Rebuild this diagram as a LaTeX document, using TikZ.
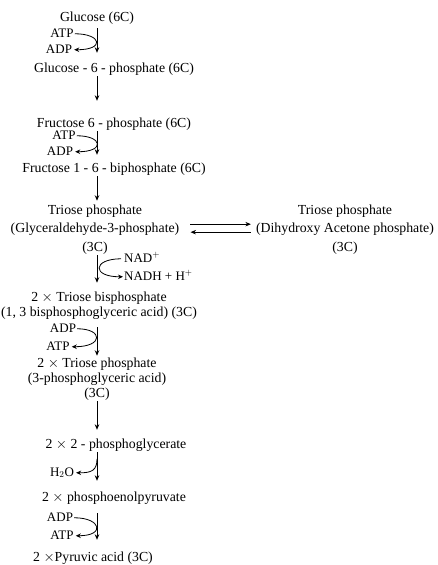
\documentclass[tikz,border=0pt]{standalone}
\usepackage{fontspec}
\setmainfont{Liberation Serif}
\usetikzlibrary{arrows.meta}
\begin{document}
\begin{tikzpicture}[x=1pt,y=-1pt,
  lbl/.style={inner sep=0pt, anchor=base, font=\fontsize{13.8}{15}\selectfont, text height=9.5pt, text depth=3pt},
  blk/.style={inner sep=0pt, anchor=base, align=center, font=\fontsize{13.8}{#1}\selectfont},
  sidel/.style={inner sep=0pt, anchor=base, font=\fontsize{13}{15}\selectfont, text height=9pt, text depth=2.5pt},
  arr/.style={-{Stealth[length=5.5pt,width=4.5pt]}, line width=0.8pt},
  cyc/.style={-{Stealth[length=5pt,width=4.5pt]}, line width=0.8pt}]
\useasboundingbox (0,0) rectangle (437,565);
\coordinate (ax) at (97,0);
% main chain
\node[lbl] (glu) at (97,21) {Glucose (6C)};
\node[lbl] (g6p) at (114,72) {Glucose - 6 - phosphate (6C)};
\node[lbl] (f6p) at (114,127) {Fructose 6 - phosphate (6C)};
\node[lbl] (f16) at (114,172) {Fructose 1 - 6 - biphosphate (6C)};
\node[blk=18.5] (tp1) at (95,251) {Triose phosphate\\(Glyceraldehyde-3-phosphate)\\(3C)};
\node[blk=18.5] (tp2) at (345,251) {Triose phosphate\\(Dihydroxy Acetone phosphate)\\(3C)};
\node[blk=15] (tbp) at (99,316) {2 $\times$ Triose bisphosphate\\(1, 3 bisphosphoglyceric acid) (3C)};
\node[blk=15] (tp3) at (97,397) {2 $\times$ Triose phosphate\\(3-phosphoglyceric acid)\\(3C)};
\node[lbl] (pg) at (116,448) {2 $\times$ 2 - phosphoglycerate};
\node[lbl] (pep) at (114,501) {2 $\times$ phosphoenolpyruvate};
\node[lbl] (pyr) at (93,561) {2 $\times$Pyruvic acid (3C)};
% side labels
\node[sidel] (atp1) at (62,37) {ATP};
\node[sidel] (adp1) at (59,53) {ADP};
\node[sidel] (atp2) at (64,139) {ATP};
\node[sidel] (adp2) at (60,155) {ADP};
\node[sidel, anchor=base west] (nad) at (124,262) {NAD$^+$};
\node[sidel, anchor=base west] (nadh) at (124,280) {NADH + H$^+$};
\node[sidel] (adp3) at (63,332) {ADP};
\node[sidel] (atp3) at (58,350) {ATP};
\node[sidel] (h2o) at (62,476) {H$_2$O};
\node[sidel] (adp4) at (60,521) {ADP};
\node[sidel] (atp4) at (62,539) {ATP};
\coordinate (h2os) at (97,459);
% vertical arrows
\draw[arr, shorten <=4pt, shorten >=9.5pt] (glu.south -| ax) -- (g6p.north -| ax);
\draw[arr, shorten <=1pt, shorten >=16.5pt] (g6p.south -| ax) -- (f6p.north -| ax);
\draw[arr, shorten <=1pt, shorten >=7.5pt] (f6p.south -| ax) -- (f16.north -| ax);
\draw[arr, shorten <=1pt, shorten >=3.5pt] (f16.south -| ax) -- (tp1.north -| ax);
\draw[arr, shorten <=1pt, shorten >=8.5pt] (tp1.south -| ax) -- (tbp.north -| ax);
\draw[arr, shorten <=8pt, shorten >=1.5pt] (tbp.south -| ax) -- (tp3.north -| ax);
\draw[arr, shorten <=1pt, shorten >=8.5pt] (tp3.south -| ax) -- (pg.north -| ax);
\draw[arr, shorten <=1pt, shorten >=10.5pt] (pg.south -| ax) -- (pep.north -| ax);
\draw[arr, shorten <=9pt, shorten >=11.5pt] (pep.south -| ax) -- (pyr.north -| ax);
% equilibrium
\draw[arr] ([xshift=11pt,yshift=5pt]tp1.east) -- ([xshift=-5pt,yshift=5pt]tp2.west);
\draw[arr] ([xshift=-5pt,yshift=-3pt]tp2.west) -- ([xshift=11pt,yshift=-3pt]tp1.east);
% side curves
\draw[cyc] ([xshift=1pt]atp1.east) .. controls +(27pt,0pt) and +(31pt,0pt) .. ([xshift=2pt]adp1.east);
\draw[cyc] ([xshift=1pt]atp2.east) .. controls +(26pt,0pt) and +(30pt,0pt) .. ([xshift=2pt]adp2.east);
\draw[cyc] ([xshift=1pt]adp3.east) .. controls +(26pt,0pt) and +(32pt,0pt) .. ([xshift=2pt]atp3.east);
\draw[cyc] ([xshift=1pt]adp4.east) .. controls +(27pt,0pt) and +(30pt,0pt) .. ([xshift=2pt]atp4.east);
\draw[cyc] ([xshift=-3pt]nad.west) .. controls (92,259) and (92,277) .. ([xshift=-1pt]nadh.west);
\draw[cyc] (h2os) .. controls (97,470) and (92,473) .. ([xshift=2pt]h2o.east);
\end{tikzpicture}
\end{document}
